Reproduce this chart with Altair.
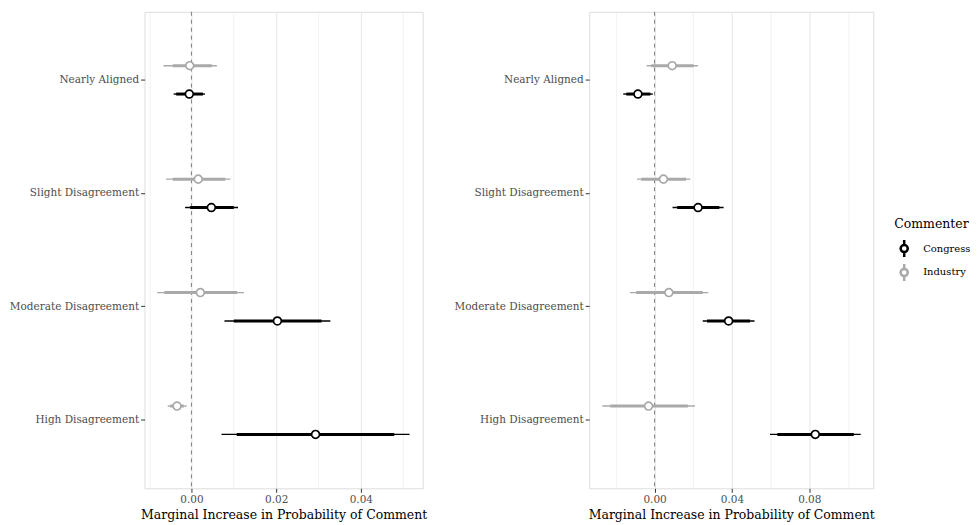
import altair as alt
import pandas as pd

categories = ["Nearly Aligned", "Slight Disagreement", "Moderate Disagreement", "High Disagreement"]
commenters = ["Congress", "Industry"]

# Left panel
left_congress_est = [-0.0005, 0.0047, 0.0203, 0.0293]
left_congress_lo95 = [-0.0042, -0.0015, 0.0078, 0.0071]
left_congress_hi95 = [0.0032, 0.0110, 0.0328, 0.0515]
left_congress_lo90 = [-0.0036, -0.0003, 0.0100, 0.0107]
left_congress_hi90 = [0.0027, 0.0100, 0.0307, 0.0479]
left_industry_est = [-0.0004, 0.0016, 0.0021, -0.0034]
left_industry_lo95 = [-0.0066, -0.0060, -0.0081, -0.0056]
left_industry_hi95 = [0.0060, 0.0092, 0.0124, -0.0011]
left_industry_lo90 = [-0.0044, -0.0044, -0.0064, -0.0050]
left_industry_hi90 = [0.0048, 0.0080, 0.0108, -0.0018]

# Right panel
right_congress_est = [-0.0086, 0.0225, 0.0383, 0.0831]
right_congress_lo95 = [-0.0162, 0.0093, 0.0249, 0.0597]
right_congress_hi95 = [-0.0009, 0.0357, 0.0517, 0.1066]
right_congress_lo90 = [-0.0146, 0.0117, 0.0271, 0.0635]
right_congress_hi90 = [-0.0022, 0.0335, 0.0494, 0.1030]
right_industry_est = [0.0091, 0.0046, 0.0074, -0.0031]
right_industry_lo95 = [-0.0041, -0.0091, -0.0127, -0.0270]
right_industry_hi95 = [0.0225, 0.0185, 0.0278, 0.0209]
right_industry_lo90 = [-0.0017, -0.0069, -0.0095, -0.0229]
right_industry_hi90 = [0.0202, 0.0163, 0.0249, 0.0172]

# Axis breaks
left_domain = [-0.01106, 0.0546]
left_grid = [-0.01, 0.0, 0.01, 0.02, 0.03, 0.04, 0.05]
left_labels = [0.0, 0.02, 0.04]
right_domain = [-0.0338, 0.1131]
right_grid = [-0.02, 0.0, 0.02, 0.04, 0.06, 0.08, 0.10]
right_labels = [0.0, 0.04, 0.08]
zero_line = [0.0]

FONT = "DejaVu Serif"
GRAY = "#a9a9a9"


def make_df(c_est, c_lo95, c_hi95, c_lo90, c_hi90, i_est, i_lo95, i_hi95, i_lo90, i_hi90):
    rows = []
    for k, cat in enumerate(categories):
        rows.append(dict(category=cat, commenter="Congress", est=c_est[k], lo95=c_lo95[k],
                         hi95=c_hi95[k], lo90=c_lo90[k], hi90=c_hi90[k]))
        rows.append(dict(category=cat, commenter="Industry", est=i_est[k], lo95=i_lo95[k],
                         hi95=i_hi95[k], lo90=i_lo90[k], hi90=i_hi90[k]))
    return pd.DataFrame(rows)


def panel(df, domain, grid, labels, width):
    arr = "[" + ",".join(repr(v) for v in labels) + "]"
    test = f"indexof({arr}, datum.value) >= 0"
    xaxis = alt.Axis(
        title="Marginal Increase in Probability of Comment",
        values=grid,
        labelExpr=f"{test} ? format(datum.value, '.2f') : ''",
        tickOpacity={"condition": {"test": test, "value": 1}, "value": 0},
        gridWidth={"condition": {"test": test, "value": 1.1}, "value": 0.55},
        gridColor="#e8e8e8",
        domain=False,
        tickColor="#333333",
        tickSize=4,
        labelColor="#4d4d4d",
        labelFontSize=10.5,
        labelPadding=2,
        titleFontSize=12.5,
        titleColor="#000000",
        titleFontWeight="normal",
        titlePadding=4,
    )
    xscale = alt.Scale(domain=domain, nice=False, zero=False)
    yenc = alt.Y(
        "category:N",
        sort=categories,
        scale=alt.Scale(paddingInner=0, paddingOuter=0.1),
        axis=alt.Axis(
            title=None,
            domain=False,
            tickColor="#333333",
            tickSize=4,
            labelColor="#4d4d4d",
            labelFontSize=10.5,
            labelPadding=2,
            gridColor="#e8e8e8",
            gridWidth=1.1,
            bandPosition=0.5,
        ),
    )
    yoff = alt.YOffset(
        "commenter:N",
        scale=alt.Scale(domain=["Industry", "Congress"], paddingInner=0, paddingOuter=1),
    )
    color = alt.Color(
        "commenter:N",
        scale=alt.Scale(domain=commenters, range=["#000000", GRAY]),
        legend=alt.Legend(
            title="Commenter",
            orient="none",
            legendX=752,
            legendY=207,
            symbolType="M0,-1L0,-0.42M0,0.42L0,1M-0.42,0A0.42,0.42,0,1,0,0.42,0A0.42,0.42,0,1,0,-0.42,0Z",
            symbolSize=289,
            symbolStrokeWidth=2.5,
            symbolFillColor="white",
            titleFontSize=12.5,
            titleFontWeight="normal",
            titleColor="#000000",
            labelFontSize=10,
            labelColor="#000000",
            labelOffset=9,
            rowPadding=-6,
            titlePadding=8,
        ),
    )

    vline = alt.Chart(pd.DataFrame({"zero": zero_line})).mark_rule(
        strokeDash=[4, 4], color="#7f7f7f", strokeWidth=1
    ).encode(x=alt.X("zero:Q", scale=xscale, axis=xaxis))

    base = alt.Chart(df)
    thin = base.mark_rule(strokeWidth=1.4).encode(
        x=alt.X("lo95:Q", scale=xscale, axis=xaxis), x2="hi95:Q", y=yenc, yOffset=yoff, color=color
    )
    thick = base.mark_rule(strokeWidth=3).encode(
        x=alt.X("lo90:Q", scale=xscale, axis=xaxis), x2="hi90:Q", y=yenc, yOffset=yoff, color=color
    )
    pts = base.mark_point(filled=False, fill="white", fillOpacity=1, size=62, strokeWidth=1.7, opacity=1).encode(
        x=alt.X("est:Q", scale=xscale, axis=xaxis), y=yenc, yOffset=yoff, color=color
    )
    return alt.layer(vline, thin, thick, pts).properties(width=width, height=478)


left_df = make_df(left_congress_est, left_congress_lo95, left_congress_hi95, left_congress_lo90,
                  left_congress_hi90, left_industry_est, left_industry_lo95, left_industry_hi95,
                  left_industry_lo90, left_industry_hi90)
right_df = make_df(right_congress_est, right_congress_lo95, right_congress_hi95, right_congress_lo90,
                   right_congress_hi90, right_industry_est, right_industry_lo95, right_industry_hi95,
                   right_industry_lo90, right_industry_hi90)

chart = alt.hconcat(
    panel(left_df, left_domain, left_grid, left_labels, 279),
    panel(right_df, right_domain, right_grid, right_labels, 285),
    spacing=25,
).properties(
    padding={"left": 0, "top": 2, "right": 0, "bottom": 0},
).configure_view(
    stroke="#333333", strokeWidth=1.1
).configure(
    font=FONT,
    background="white",
)

chart.save("out.html", embed_options={"renderer": "svg", "actions": False})
